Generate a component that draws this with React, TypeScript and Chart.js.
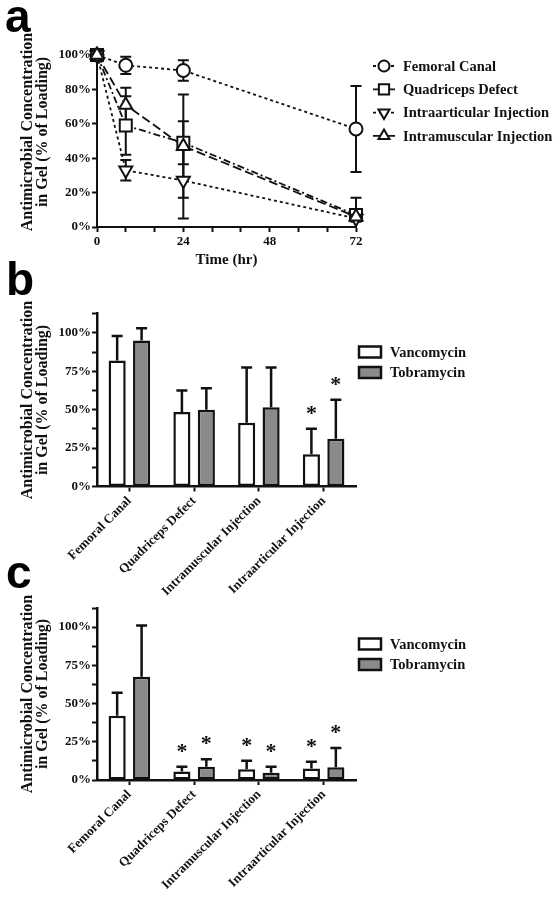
import React, { useEffect, useRef } from 'react';
import { Chart, registerables } from 'chart.js';

Chart.register(...registerables);

const SERIF = '"Liberation Serif", "Times New Roman", serif';
const SANS = '"Liberation Sans", Arial, sans-serif';
const INK = '#111';

// ---------- Panel a data ----------
const timeHours = [0, 8, 24, 72];
const xTickLabelsA = [0, 24, 48, 72];
const seriesNamesA = ['Femoral Canal', 'Quadriceps Defect', 'Intraarticular Injection', 'Intramuscular Injection'];
const femoralCanal = [100, 94, 91, 57];
const femoralCanalErr = [0, 5, 6, 25];
const quadricepsDefect = [100, 59, 49, 7];
const quadricepsDefectErr = [0, 17, 12.5, 3];
const intraarticular = [100, 33, 27, 5];
const intraarticularErr = [0, 6, 22, 2];
const intramuscular = [100, 71, 47, 6];
const intramuscularErr = [0, 10, 30, 11];

// ---------- Panels b / c data ----------
const sites = ['Femoral Canal', 'Quadriceps Defect', 'Intramuscular Injection', 'Intraarticular Injection'];
const drugNames = ['Vancomycin', 'Tobramycin'];
const vancB = [82, 48.5, 41.5, 21];
const vancBErr = [16, 14, 36, 16.5];
const vancBSig = [false, false, false, true];
const tobB = [95, 50, 51.5, 31];
const tobBErr = [8, 14, 26, 25.5];
const tobBSig = [false, false, false, true];
const vancC = [42, 5.5, 7, 7.5];
const vancCErr = [15, 3.2, 5.6, 4.5];
const vancCSig = [false, true, true, true];
const tobC = [67.5, 8.7, 4.8, 8.3];
const tobCErr = [33.5, 4.8, 3.9, 12.7];
const tobCSig = [false, true, true, true];

const yTitleLines = ['Antimicrobial Concentration', 'in Gel (% of Loading)'];

const seriesA = [
  { name: seriesNamesA[0], values: femoralCanal, err: femoralCanalErr, pointStyle: 'circle', radius: 6.5, rotation: 0, dash: [3, 3], order: 3 },
  { name: seriesNamesA[1], values: quadricepsDefect, err: quadricepsDefectErr, pointStyle: 'rect', radius: 8.5, rotation: 0, dash: [7, 3, 2, 3], order: 4 },
  { name: seriesNamesA[2], values: intraarticular, err: intraarticularErr, pointStyle: 'triangle', radius: 7.5, rotation: 180, dash: [3, 3], order: 2 },
  { name: seriesNamesA[3], values: intramuscular, err: intramuscularErr, pointStyle: 'triangle', radius: 7.5, rotation: 0, dash: [9, 4], order: 1 },
];

function drawMarker(ctx: CanvasRenderingContext2D, style: string, x: number, y: number, r: number, rot: number) {
  ctx.beginPath();
  if (style === 'circle') {
    ctx.arc(x, y, r, 0, Math.PI * 2);
  } else if (style === 'rect') {
    const s = r * Math.SQRT1_2;
    ctx.rect(x - s, y - s, 2 * s, 2 * s);
  } else {
    let rad = (rot * Math.PI) / 180;
    ctx.moveTo(x + Math.sin(rad) * r, y - Math.cos(rad) * r);
    rad += (2 * Math.PI) / 3;
    ctx.lineTo(x + Math.sin(rad) * r, y - Math.cos(rad) * r);
    rad += (2 * Math.PI) / 3;
    ctx.lineTo(x + Math.sin(rad) * r, y - Math.cos(rad) * r);
    ctx.closePath();
  }
  ctx.fill();
  ctx.stroke();
}

function drawYTitle(ctx: CanvasRenderingContext2D, xs: number[], cy: number) {
  ctx.save();
  ctx.fillStyle = INK;
  ctx.font = `bold 16px ${SERIF}`;
  ctx.textAlign = 'center';
  ctx.textBaseline = 'middle';
  yTitleLines.forEach((line, i) => {
    ctx.save();
    ctx.translate(xs[i], cy);
    ctx.rotate(-Math.PI / 2);
    ctx.fillText(line, 0, 0);
    ctx.restore();
  });
  ctx.restore();
}

function drawLetter(ctx: CanvasRenderingContext2D, letter: string, x: number, baseline: number) {
  ctx.save();
  ctx.fillStyle = '#000';
  ctx.font = `bold 46px ${SANS}`;
  ctx.textAlign = 'left';
  ctx.textBaseline = 'alphabetic';
  ctx.fillText(letter, x, baseline);
  ctx.restore();
}

const tickFont = { family: SERIF, size: 13, weight: 'bold' as const };

function buildA() {
  const lineSets = seriesA.map((s) => ({
    type: 'line',
    label: s.name + ' line',
    data: timeHours.map((t, i) => ({ x: t, y: s.values[i] })),
    borderColor: INK,
    borderWidth: 1.8,
    borderDash: s.dash,
    pointRadius: 0,
    fill: false,
    tension: 0,
    clip: false,
    order: 20 + s.order,
  }));
  const pointSets = seriesA.map((s) => ({
    type: 'line',
    label: s.name,
    data: timeHours.map((t, i) => ({ x: t, y: s.values[i] })),
    showLine: false,
    pointStyle: s.pointStyle,
    pointRadius: s.radius,
    pointRotation: s.rotation,
    pointBackgroundColor: '#fff',
    pointBorderColor: INK,
    pointBorderWidth: 2,
    clip: false,
    order: s.order,
  }));

  const plugin = {
    id: 'panelA',
    beforeDatasetsDraw(chart: any) {
      const { ctx, scales } = chart;
      ctx.save();
      ctx.strokeStyle = INK;
      ctx.lineWidth = 2;
      seriesA.forEach((s) => {
        timeHours.forEach((t, i) => {
          const e = s.err[i];
          if (!e) return;
          const x = scales.x.getPixelForValue(t);
          const y1 = scales.y.getPixelForValue(Math.min(100, s.values[i] + e));
          const y0 = scales.y.getPixelForValue(Math.max(0, s.values[i] - e));
          ctx.beginPath();
          ctx.moveTo(x, y0);
          ctx.lineTo(x, y1);
          ctx.moveTo(x - 5.5, y1);
          ctx.lineTo(x + 5.5, y1);
          if (s.values[i] - e > 0) {
            ctx.moveTo(x - 5.5, y0);
            ctx.lineTo(x + 5.5, y0);
          }
          ctx.stroke();
        });
      });
      ctx.restore();
    },
    afterDraw(chart: any) {
      const { ctx } = chart;
      drawLetter(ctx, 'a', 5, 32);
      drawYTitle(ctx, [28, 43], 132);
      // legend
      ctx.save();
      seriesA.forEach((s, i) => {
        const y = 66 + i * 23.3;
        ctx.strokeStyle = INK;
        ctx.lineWidth = 1.8;
        ctx.setLineDash(s.dash);
        ctx.beginPath();
        ctx.moveTo(373, y);
        ctx.lineTo(395, y);
        ctx.stroke();
        ctx.setLineDash([]);
        ctx.fillStyle = '#fff';
        ctx.lineWidth = 2;
        drawMarker(ctx, s.pointStyle, 384, y, s.radius * 0.85, s.rotation);
        ctx.fillStyle = INK;
        ctx.font = `bold 14.5px ${SERIF}`;
        ctx.textAlign = 'left';
        ctx.textBaseline = 'middle';
        ctx.fillText(s.name, 403, y + 1);
      });
      ctx.restore();
    },
  };

  return {
    type: 'line',
    data: { datasets: [...lineSets, ...pointSets] },
    options: {
      animation: false,
      responsive: false,
      devicePixelRatio: 1,
      layout: { padding: { left: 0, right: 202, top: 55, bottom: 0 } },
      plugins: { legend: { display: false }, tooltip: { enabled: false } },
      scales: {
        x: {
          type: 'linear',
          min: 0,
          max: 72,
          afterFit: (s: any) => { s.height = 53; },
          border: { color: INK, width: 2 },
          grid: { display: true, drawOnChartArea: false, drawTicks: true, tickLength: 5, tickColor: INK, tickWidth: 2 },
          ticks: {
            stepSize: 8,
            autoSkip: false,
            maxRotation: 0,
            color: INK,
            font: tickFont,
            padding: 2,
            callback: (v: number) => (xTickLabelsA.includes(v) ? String(v) : ''),
          },
          title: { display: true, text: 'Time (hr)', color: INK, font: { family: SERIF, size: 15, weight: 'bold' }, padding: { top: 0, bottom: 11 } },
        },
        y: {
          min: 0,
          max: 100,
          afterFit: (s: any) => { s.width = 97; },
          border: { color: INK, width: 2 },
          grid: { display: true, drawOnChartArea: false, drawTicks: true, tickLength: 5, tickColor: INK, tickWidth: 2 },
          ticks: {
            stepSize: 10,
            color: INK,
            font: tickFont,
            padding: 1,
            callback: (v: number) => (v % 20 === 0 ? v + '%' : ''),
          },
        },
      },
    },
    plugins: [plugin],
  };
}

function buildBars(
  vanc: number[], vancErr: number[], vancSig: boolean[],
  tob: number[], tobErr: number[], tobSig: boolean[],
  opts: { padTop: number; xHeight: number; titleY: number; legendY: number; letters: { t: string; x: number; y: number }[] }
) {
  const errs = [vancErr, tobErr];
  const sigs = [vancSig, tobSig];
  const plugin = {
    id: 'barsExtra',
    afterDatasetsDraw(chart: any) {
      const { ctx, scales } = chart;
      ctx.save();
      ctx.strokeStyle = INK;
      ctx.lineWidth = 2.5;
      chart.data.datasets.forEach((ds: any, di: number) => {
        const meta = chart.getDatasetMeta(di);
        meta.data.forEach((bar: any, i: number) => {
          const v = ds.data[i];
          const top = scales.y.getPixelForValue(v + errs[di][i]);
          const yb = scales.y.getPixelForValue(v);
          ctx.beginPath();
          ctx.moveTo(bar.x, yb);
          ctx.lineTo(bar.x, top);
          ctx.moveTo(bar.x - 5.5, top);
          ctx.lineTo(bar.x + 5.5, top);
          ctx.stroke();
          if (sigs[di][i]) {
            ctx.fillStyle = INK;
            ctx.font = `bold 22px ${SERIF}`;
            ctx.textAlign = 'center';
            ctx.textBaseline = 'alphabetic';
            ctx.fillText('*', bar.x, top - 20 + 11);
          }
        });
      });
      ctx.restore();
    },
    afterDraw(chart: any) {
      const { ctx } = chart;
      opts.letters.forEach((l) => drawLetter(ctx, l.t, l.x, l.y));
      drawYTitle(ctx, [28, 43], opts.titleY);
      ctx.save();
      drugNames.forEach((name, i) => {
        const y = opts.legendY + i * 20.5;
        ctx.fillStyle = i === 0 ? '#fff' : '#8a8a8a';
        ctx.strokeStyle = INK;
        ctx.lineWidth = 2.5;
        ctx.fillRect(359, y - 5.5, 22, 11);
        ctx.strokeRect(359, y - 5.5, 22, 11);
        ctx.fillStyle = INK;
        ctx.font = `bold 14.5px ${SERIF}`;
        ctx.textAlign = 'left';
        ctx.textBaseline = 'middle';
        ctx.fillText(name, 390, y + 1);
      });
      ctx.restore();
    },
  };

  return {
    type: 'bar',
    data: {
      labels: sites,
      datasets: [
        { label: drugNames[0], data: vanc, backgroundColor: '#fff', borderColor: INK, borderWidth: 2.5, borderSkipped: false },
        { label: drugNames[1], data: tob, backgroundColor: '#8a8a8a', borderColor: INK, borderWidth: 2.5, borderSkipped: false },
      ],
    },
    options: {
      animation: false,
      responsive: false,
      devicePixelRatio: 1,
      categoryPercentage: 0.755,
      barPercentage: 0.7,
      layout: { padding: { left: 0, right: 202, top: opts.padTop, bottom: 0 } },
      plugins: { legend: { display: false }, tooltip: { enabled: false } },
      scales: {
        x: {
          type: 'category',
          offset: true,
          afterFit: (s: any) => { s.height = opts.xHeight; },
          border: { color: INK, width: 2.5 },
          grid: { display: true, offset: false, drawOnChartArea: false, drawTicks: true, tickLength: 5, tickColor: INK, tickWidth: 2 },
          ticks: { autoSkip: false, minRotation: 45, maxRotation: 45, color: INK, font: tickFont, padding: 2 },
        },
        y: {
          min: 0,
          max: 112.5,
          afterFit: (s: any) => { s.width = 97; },
          border: { color: INK, width: 2.5 },
          grid: { display: true, drawOnChartArea: false, drawTicks: true, tickLength: 5, tickColor: INK, tickWidth: 2 },
          ticks: {
            stepSize: 12.5,
            color: INK,
            font: tickFont,
            padding: 1,
            callback: (v: number) => (v % 25 === 0 ? v + '%' : ''),
          },
        },
      },
    },
    plugins: [plugin],
  };
}

function ChartCanvas({ top, height, build }: { top: number; height: number; build: () => any }) {
  const ref = useRef<HTMLCanvasElement>(null);
  useEffect(() => {
    const chart = new Chart(ref.current as HTMLCanvasElement, build());
    return () => chart.destroy();
  }, []);
  return (
    <canvas
      ref={ref}
      width={558}
      height={height}
      style={{ position: 'absolute', left: 0, top, width: 558, height, display: 'block' }}
    />
  );
}

export default function App() {
  return (
    <div style={{ position: 'absolute', left: 0, top: 0, width: 558, height: 900, background: '#fff', overflow: 'hidden' }}>
      <ChartCanvas top={0} height={280} build={buildA} />
      <ChartCanvas
        top={250}
        height={347}
        build={() =>
          buildBars(vancB, vancBErr, vancBSig, tobB, tobBErr, tobBSig, {
            padTop: 63.6,
            xHeight: 110.5,
            titleY: 150,
            legendY: 102,
            letters: [
              { t: 'b', x: 6, y: 45 },
              { t: 'c', x: 6, y: 338 },
            ],
          })
        }
      />
      <ChartCanvas
        top={580}
        height={320}
        build={() =>
          buildBars(vancC, vancCErr, vancCSig, tobC, tobCErr, tobCSig, {
            padTop: 28,
            xHeight: 120,
            titleY: 114,
            legendY: 64,
            letters: [],
          })
        }
      />
    </div>
  );
}
